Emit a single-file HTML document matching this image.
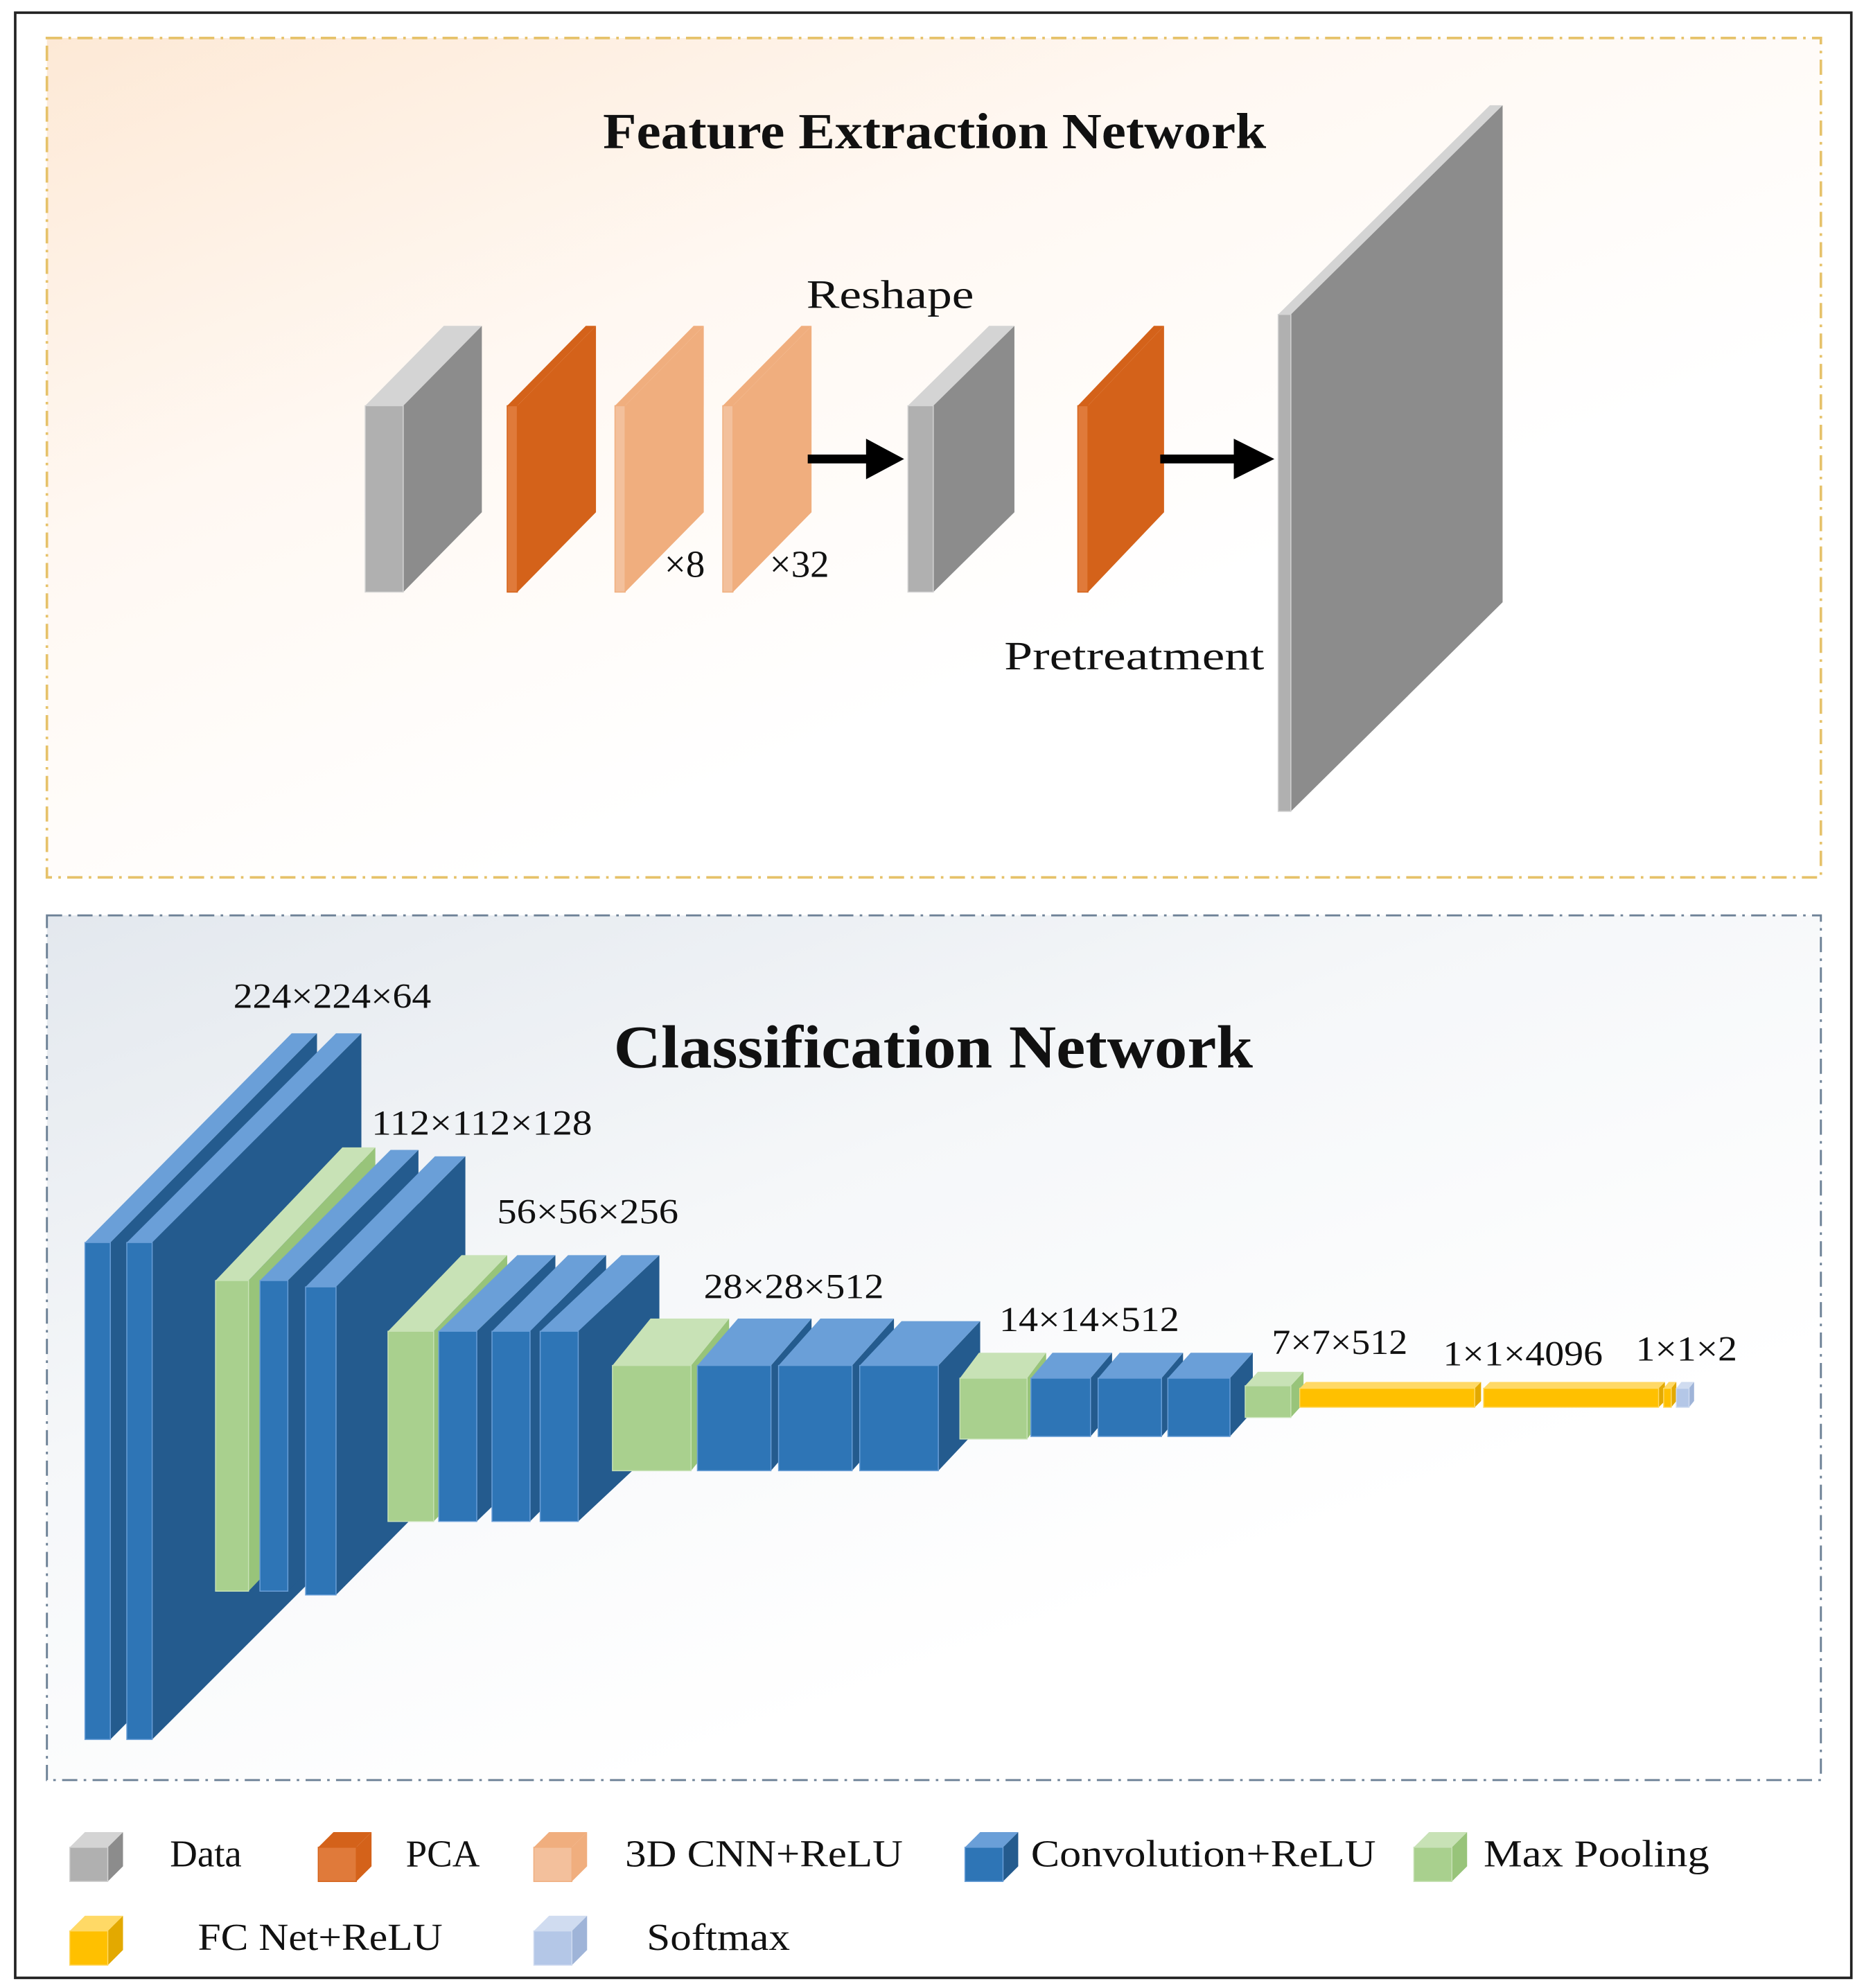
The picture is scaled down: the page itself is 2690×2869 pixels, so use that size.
<!DOCTYPE html>
<html><head><meta charset="utf-8">
<style>
html,body{margin:0;padding:0;background:#fff;}
svg{display:block;}
text{font-family:"Liberation Serif",serif;fill:#111;}
</style></head>
<body>
<svg id="s" width="2690" height="2869" viewBox="0 0 1470 1568" preserveAspectRatio="none" xmlns="http://www.w3.org/2000/svg">
<defs>
<linearGradient id="gt" x1="0" y1="0" x2="0.6" y2="0.7">
<stop offset="0" stop-color="#fde9d6"/><stop offset="0.5" stop-color="#fff8f2"/><stop offset="1" stop-color="#ffffff"/>
</linearGradient>
<linearGradient id="gb" x1="0" y1="0" x2="0.6" y2="0.8">
<stop offset="0" stop-color="#e3e8ee"/><stop offset="0.5" stop-color="#f5f7f9"/><stop offset="1" stop-color="#ffffff"/>
</linearGradient>
</defs>
<rect x="0" y="0" width="1470" height="1568" fill="#fff"/>
<rect x="12" y="10" width="1448" height="1550" fill="none" stroke="#222" stroke-width="2"/>
<rect x="37" y="30" width="1399" height="662" fill="url(#gt)" stroke="#e6c26a" stroke-width="2" stroke-dasharray="12,5,2,5"/>
<rect x="37" y="722" width="1399" height="682" fill="url(#gb)" stroke="#6d8196" stroke-width="1.6" stroke-dasharray="12,5,2,5"/>
<text x="737" y="117" text-anchor="middle" font-size="40" font-weight="bold" textLength="523" lengthAdjust="spacingAndGlyphs">Feature Extraction Network</text>
<text x="736" y="842" text-anchor="middle" font-size="48" font-weight="bold" textLength="504" lengthAdjust="spacingAndGlyphs">Classification Network</text>
<g id="blocks"></g>
<g stroke="#000" stroke-width="7"><line x1="637" y1="362" x2="688" y2="362"/><line x1="915" y1="362" x2="978" y2="362"/></g>
<polygon points="683,346 713,362 683,378" fill="#000"/>
<polygon points="973,346 1005,362 973,378" fill="#000"/>
<text x="636" y="243" font-size="32" textLength="132" lengthAdjust="spacingAndGlyphs">Reshape</text>
<text x="792" y="528" font-size="32" textLength="205" lengthAdjust="spacingAndGlyphs">Pretreatment</text>
<text x="524" y="455" font-size="30">×8</text>
<text x="607" y="455" font-size="30">×32</text>
<g font-size="28">
<text x="184" y="795" textLength="156" lengthAdjust="spacingAndGlyphs">224×224×64</text>
<text x="293" y="895" textLength="174" lengthAdjust="spacingAndGlyphs">112×112×128</text>
<text x="392" y="965" textLength="143" lengthAdjust="spacingAndGlyphs">56×56×256</text>
<text x="555" y="1024" textLength="142" lengthAdjust="spacingAndGlyphs">28×28×512</text>
<text x="788" y="1050" textLength="142" lengthAdjust="spacingAndGlyphs">14×14×512</text>
<text x="1003" y="1068" textLength="107" lengthAdjust="spacingAndGlyphs">7×7×512</text>
<text x="1138" y="1077" textLength="126" lengthAdjust="spacingAndGlyphs">1×1×4096</text>
<text x="1290" y="1073" textLength="80" lengthAdjust="spacingAndGlyphs">1×1×2</text>
</g>
<g font-size="30">
<text x="134" y="1472">Data</text>
<text x="320" y="1472">PCA</text>
<text x="493" y="1472" textLength="219" lengthAdjust="spacingAndGlyphs">3D CNN+ReLU</text>
<text x="813" y="1472" textLength="272" lengthAdjust="spacingAndGlyphs">Convolution+ReLU</text>
<text x="1170" y="1472" textLength="178" lengthAdjust="spacingAndGlyphs">Max Pooling</text>
<text x="156" y="1538" textLength="193" lengthAdjust="spacingAndGlyphs">FC Net+ReLU</text>
<text x="510" y="1538" textLength="113" lengthAdjust="spacingAndGlyphs">Softmax</text>
</g>
</svg>
<script>
var C={
gray:["#b0b0b0","#d4d4d4","#8c8c8c"],
org:["#e07a3a","#d4621a","#d4621a"],
pch:["#f3c09c","#f0ae7e","#f0ae7e"],
blu:["#2e75b6","#6a9fd8","#245b8e"],
grn:["#a9d08e","#c8e2b6","#98c47a"],
yel:["#ffc000","#ffd966","#e3a900"],
sm:["#b4c7e7","#d0dcf0","#9fb4d8"]};
var B=[
[288,320,318,467,62,-63,"gray"],[400,320,408,467,62,-63,"org"],[485,320,493,467,62,-63,"pch"],[570,320,578,467,62,-63,"pch"],
[716,320,736,467,64,-63,"gray"],[850,320,858,467,60,-63,"org"],[1008,248,1018,640,167,-165,"gray"],
[67,980,87,1372,163,-165,"blu"],[100,980,120,1372,165,-165,"blu"],
[170,1010,196,1255,100,-105,"grn"],[205,1010,227,1255,103,-103,"blu"],[241,1015,265,1258,102,-103,"blu"],
[306,1050,342,1200,58,-60,"grn"],[346,1050,376,1200,62,-60,"blu"],[388,1050,418,1200,60,-60,"blu"],[426,1050,456,1200,64,-60,"blu"],
[483,1077,545,1160,30,-37,"grn"],[550,1077,608,1160,32,-37,"blu"],[614,1077,672,1160,33,-37,"blu"],[678,1077,740,1160,33,-35,"blu"],
[757,1087,810,1135,15,-20,"grn"],[813,1087,860,1133,17,-20,"blu"],[866,1087,916,1133,17,-20,"blu"],[921,1087,970,1133,18,-20,"blu"],
[982,1093,1018,1118,10,-11,"grn"],[1025,1095,1163,1110,5,-5,"yel"],[1170,1095,1308,1110,5,-5,"yel"],[1312,1095,1318,1110,4,-5,"yel"],[1322,1095,1332,1110,4,-5,"sm"],
[55,1457,85,1484,12,-12,"gray"],[251,1457,281,1484,12,-12,"org"],[421,1457,451,1484,12,-12,"pch"],[761,1457,791,1484,12,-12,"blu"],[1115,1457,1145,1484,12,-12,"grn"],
[55,1523,85,1550,12,-12,"yel"],[421,1523,451,1550,12,-12,"sm"]];
var g=document.getElementById("blocks"),h="";
function P(a,c){return '<polygon points="'+a.map(function(p){return p.join(",")}).join(" ")+'" fill="'+c+'"/>';}
B.forEach(function(b){var x1=b[0],y1=b[1],x2=b[2],y2=b[3],dx=b[4],dy=b[5],c=C[b[6]];
h+=P([[x2,y1],[x2+dx,y1+dy],[x2+dx,y2+dy],[x2,y2]],c[2]);
h+=P([[x1,y1],[x2,y1],[x2+dx,y1+dy],[x1+dx,y1+dy]],c[1]);
h+='<rect x="'+x1+'" y="'+y1+'" width="'+(x2-x1)+'" height="'+(y2-y1)+'" fill="'+c[0]+'" stroke="'+c[1]+'" stroke-width="0.8"/>';});
g.innerHTML=h;
</script>
</body></html>
